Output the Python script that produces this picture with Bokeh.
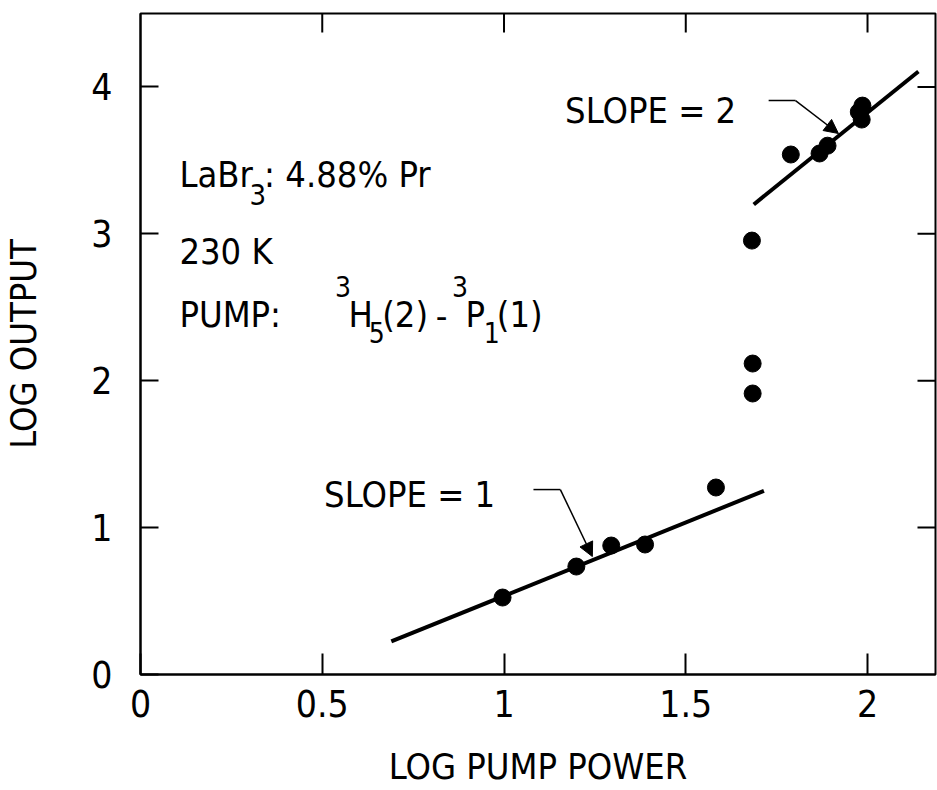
import math

from bokeh.plotting import figure
from bokeh.models import LinearAxis, Range1d, FixedTicker, Arrow, NormalHead
from bokeh.core.properties import value
from bokeh.embed import file_html
from bokeh.resources import INLINE

# measured points: log pump power vs. log output
log_pump = [0.996, 1.199, 1.295, 1.388, 1.583, 1.684, 1.684, 1.682,
            1.789, 1.868, 1.890, 1.984, 1.986, 1.976]
log_output = [0.524, 0.735, 0.878, 0.885, 1.273, 1.913, 2.117, 2.954,
              3.540, 3.547, 3.600, 3.778, 3.873, 3.830]

# straight-line guides
fit1_x = [0.690, 1.715]
fit1_y = [0.225, 1.250]
fit2_x = [1.687, 2.140]
fit2_y = [3.200, 4.105]

x_ticks = [0, 0.5, 1, 1.5, 2]
x_tick_labels = ["0", "0.5", "1", "1.5", "2"]
y_ticks = [0, 1, 2, 3, 4]
y_tick_labels = ["0", "1", "2", "3", "4"]

FONT = "'DejaVu Sans Condensed', Roboto, sans-serif"
INK = "#000000"
X_MAX, Y_MAX = 2.187, 4.5

p = figure(width=937, height=790, output_backend="svg", toolbar_location=None,
           x_range=Range1d(0, X_MAX), y_range=Range1d(0, Y_MAX),
           x_axis_location=None, y_axis_location=None,
           min_border_left=137, min_border_right=2,
           min_border_top=13, min_border_bottom=116)
p.grid.visible = False
p.outline_line_color = INK
p.outline_line_width = 2
p.background_fill_color = "white"
p.border_fill_color = "white"


def style_axis(ax, tick_len):
    ax.axis_line_color = INK
    ax.axis_line_width = 2
    ax.major_tick_line_color = INK
    ax.major_tick_line_width = 2
    ax.major_tick_in = tick_len
    ax.major_tick_out = 0
    ax.minor_tick_line_color = None
    ax.major_label_text_font = FONT
    ax.major_label_text_font_size = "37px"
    ax.major_label_text_color = INK
    ax.axis_label_text_font = FONT
    ax.axis_label_text_font_size = "36px"
    ax.axis_label_text_font_style = "normal"
    ax.axis_label_text_color = INK


xb = LinearAxis(axis_label="LOG PUMP POWER",
                ticker=FixedTicker(ticks=x_ticks),
                major_label_overrides={t: s for t, s in zip(x_ticks, x_tick_labels)})
style_axis(xb, 21)
xb.major_label_standoff = 15
xb.axis_label_standoff = 26
p.add_layout(xb, "below")

yl = LinearAxis(axis_label="LOG OUTPUT",
                ticker=FixedTicker(ticks=y_ticks),
                major_label_overrides={t: s for t, s in zip(y_ticks, y_tick_labels)})
style_axis(yl, 18)
yl.major_label_standoff = 28
yl.axis_label_standoff = 44
p.add_layout(yl, "left")

# inward ticks along the top and right edges of the frame
p.ray(x=x_ticks[1:], y=[Y_MAX] * 4, length=19, length_units="screen",
      angle=-math.pi / 2, line_color=INK, line_width=2)
p.ray(x=[X_MAX] * 4, y=y_ticks[1:], length=18, length_units="screen",
      angle=math.pi, line_color=INK, line_width=2)

# fitted lines
p.line(fit1_x, fit1_y, line_color=INK, line_width=4)
p.line(fit2_x, fit2_y, line_color=INK, line_width=4)

# data points
p.scatter(log_pump, log_output, marker="circle", size=17,
          fill_color=INK, line_color=INK)

# leader arrows for the slope notes
p.line([1.081, 1.155], [1.259, 1.259], line_color=INK, line_width=1.5)
p.add_layout(Arrow(x_start=1.155, y_start=1.259, x_end=1.243, y_end=0.803,
                   line_color=INK, line_width=1.5,
                   end=NormalHead(size=14, fill_color=INK, line_color=INK)))
p.line([1.728, 1.802], [3.907, 3.907], line_color=INK, line_width=1.5)
p.add_layout(Arrow(x_start=1.802, y_start=3.907, x_end=1.920, y_end=3.683,
                   line_color=INK, line_width=1.5,
                   end=NormalHead(size=14, fill_color=INK, line_color=INK)))


def txt(x, y, s, size="36px"):
    p.text(x=[x], y=[y], text=[s], text_font=value(FONT), text_font_size=size,
           text_color=INK, text_baseline="alphabetic", text_align="left")


# slope notes
txt(0.505, 1.225, "SLOPE = 1")
txt(1.168, 3.840, "SLOPE = 2")

# sample description
txt(0.107, 3.405, "LaBr")
txt(0.300, 3.270, "3", size="29px")
txt(0.340, 3.405, ": 4.88% Pr")
txt(0.107, 2.880, "230 K")
txt(0.107, 2.450, "PUMP:")
txt(0.535, 2.640, "3", size="28px")
txt(0.572, 2.450, "H")
txt(0.628, 2.330, "5", size="28px")
txt(0.665, 2.450, "(2)")
txt(0.812, 2.450, "-")
txt(0.857, 2.640, "3", size="28px")
txt(0.894, 2.450, "P")
txt(0.944, 2.330, "1", size="28px")
txt(0.980, 2.450, "(1)")

open("out.html", "w").write(file_html(p, INLINE))
